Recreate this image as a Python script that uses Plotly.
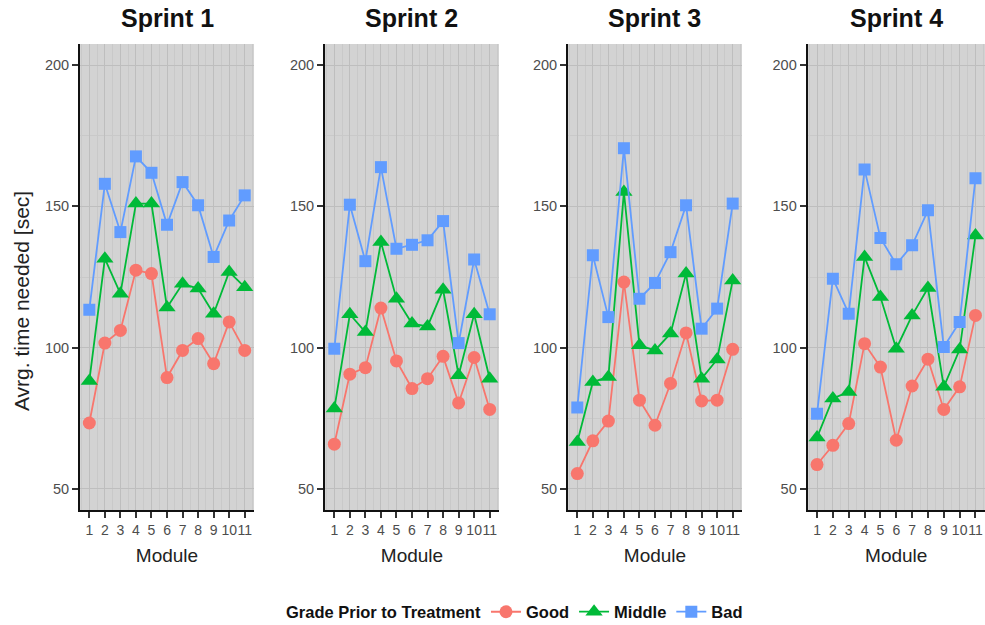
import plotly.graph_objects as go

# Average time needed per module, by sprint and by grade group
modules = list(range(1, 12))
sprints = ["Sprint 1", "Sprint 2", "Sprint 3", "Sprint 4"]
groups = ["Good", "Middle", "Bad"]

good = [
    [73.3, 101.6, 106.1, 127.4, 126.2, 89.4, 99.0, 103.2, 94.3, 109.1, 99.0],
    [65.8, 90.6, 92.9, 114.0, 95.3, 85.5, 89.0, 96.9, 80.4, 96.5, 78.1],
    [55.4, 67.0, 74.0, 123.2, 81.4, 72.5, 87.3, 105.2, 81.1, 81.4, 99.4],
    [58.6, 65.4, 73.1, 101.4, 93.1, 67.2, 86.4, 95.9, 78.1, 86.1, 111.4],
]
middle = [
    [88.2, 131.5, 119.1, 151.0, 151.0, 114.2, 122.6, 120.9, 112.0, 126.8, 121.4],
    [78.4, 111.8, 105.5, 137.4, 117.3, 108.5, 107.5, 120.5, 90.2, 111.8, 89.0],
    [66.6, 87.8, 89.6, 155.1, 100.8, 99.0, 105.0, 126.2, 89.0, 95.8, 123.8],
    [68.2, 82.0, 84.3, 132.1, 117.9, 99.6, 111.4, 121.1, 86.1, 99.3, 139.7],
]
bad = [
    [113.4, 158.0, 140.9, 167.7, 161.9, 143.5, 158.6, 150.4, 132.1, 145.0, 153.9],
    [99.6, 150.6, 130.6, 163.9, 135.0, 136.4, 138.0, 144.8, 101.6, 131.2, 111.8],
    [78.8, 132.7, 110.8, 170.6, 117.3, 122.9, 133.8, 150.4, 106.7, 113.8, 151.0],
    [76.6, 124.4, 112.0, 163.1, 138.8, 129.5, 136.2, 148.6, 100.2, 109.1, 160.0],
]
y_ticks = [50, 100, 150, 200]
legend_title = "Grade Prior to Treatment"
y_title = "Avrg. time needed [sec]"
x_title = "Module"

colors = {"Good": "#F8766D", "Middle": "#00BA38", "Bad": "#619CFF"}
symbols = {"Good": "circle", "Middle": "triangle-up", "Bad": "square"}
sizes = {"Good": 13, "Middle": 15, "Bad": 12}
series = {"Good": good, "Middle": middle, "Bad": bad}

domains = [(0.0, 0.1923), (0.2707, 0.4630), (0.5392, 0.7315), (0.8039, 1.0)]
FONT = "Liberation Sans, Arial, Helvetica, sans-serif"

fig = go.Figure()
for i, sprint in enumerate(sprints):
    xa = "x" if i == 0 else f"x{i + 1}"
    ya = "y" if i == 0 else f"y{i + 1}"
    for g in groups:
        fig.add_trace(go.Scatter(
            x=modules, y=series[g][i], mode="lines+markers",
            name=g, legendgroup=g, showlegend=(i == 0),
            xaxis=xa, yaxis=ya,
            line=dict(color=colors[g], width=1.8),
            marker=dict(color=colors[g], symbol=symbols[g], size=sizes[g]),
        ))

layout = dict(
    width=985, height=625,
    margin=dict(l=80, r=0, t=44, b=115, autoexpand=False),
    paper_bgcolor="white", plot_bgcolor="#D3D3D3",
    font=dict(family=FONT, color="#222222"),
    legend=dict(
        orientation="h", x=0.4486, xanchor="left",
        yref="container", y=0.0208, yanchor="middle",
        font=dict(size=16.5, weight="bold", color="#111111"),
        tracegroupgap=0,
    ),
    annotations=[
        dict(
            text=f"<b>{legend_title}</b>", xref="paper", yref="paper",
            x=0.4453, y=-0.2185, xanchor="right", yanchor="middle",
            showarrow=False, font=dict(size=16.5, color="#111111"),
        ),
        dict(
            text=y_title, xref="paper", yref="paper", textangle=-90,
            x=-0.064, y=0.4485, xanchor="center", yanchor="middle",
            showarrow=False, font=dict(size=21, color="#222222"),
        ),
    ],
)

for i, sprint in enumerate(sprints):
    sx = "" if i == 0 else str(i + 1)
    layout[f"xaxis{sx}"] = dict(
        domain=list(domains[i]), anchor=f"y{sx}", range=[0.4, 11.6],
        tickmode="array", tickvals=modules, ticktext=[str(m) for m in modules],
        tickangle=0, automargin=False, ticklabelstandoff=0,
        tickfont=dict(size=14, color="#4D4D4D"),
        ticks="outside", ticklen=6, tickwidth=1.5, tickcolor="#333333",
        showline=True, linecolor="#111111", linewidth=1.8,
        showgrid=True, gridcolor="#BEBEBE", gridwidth=1,
        minor=dict(dtick=0.5, tick0=0.5, showgrid=True, gridcolor="#C9C9C9", gridwidth=0.6, ticks=""),
        zeroline=False,
        title=dict(text=x_title, font=dict(size=19, color="#222222"), standoff=12),
    )
    layout[f"yaxis{sx}"] = dict(
        domain=[0, 1], anchor=f"x{sx}", range=[42.5, 207.5], automargin=False,
        tickmode="array", tickvals=y_ticks,
        tickfont=dict(size=14.5, color="#4D4D4D"),
        ticks="outside", ticklen=6, tickwidth=1.5, tickcolor="#333333",
        showline=True, linecolor="#111111", linewidth=1.8,
        showgrid=True, gridcolor="#BEBEBE", gridwidth=1,
        minor=dict(tickvals=[75, 125, 175], showgrid=True, gridcolor="#C9C9C9", gridwidth=0.8, ticks=""),
        zeroline=False,
    )
    layout["annotations"].append(dict(
        text=f"<b>{sprint}</b>", xref="paper", yref="paper",
        x=(domains[i][0] + domains[i][1]) / 2, y=1.056, xanchor="center", yanchor="middle",
        showarrow=False, font=dict(size=25, color="#111111"),
    ))

fig.update_layout(**layout)
fig.write_html("out.html")
